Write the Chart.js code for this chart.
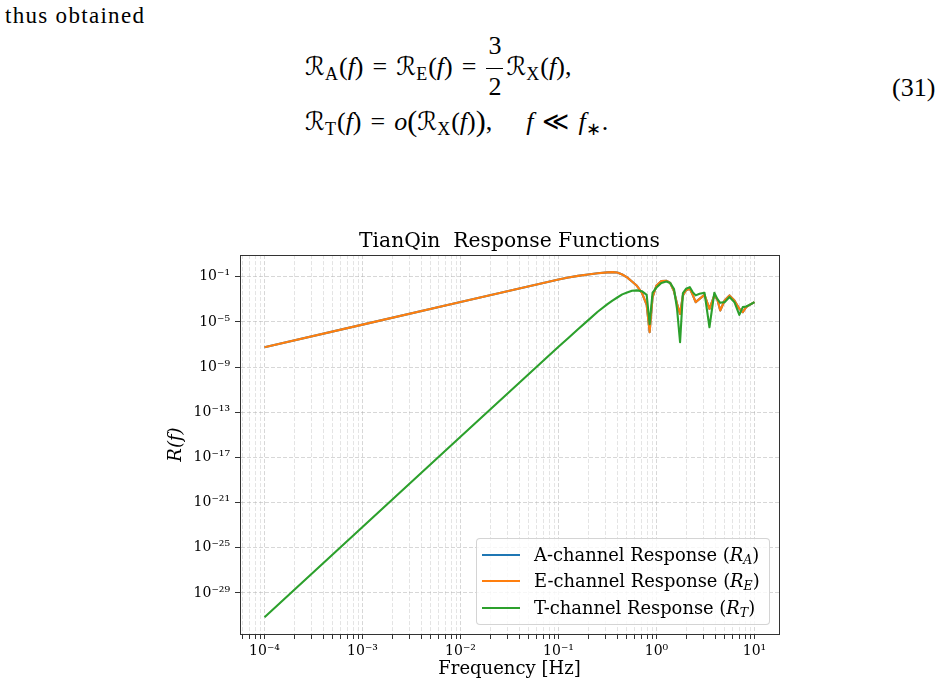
<!DOCTYPE html>
<html><head><meta charset="utf-8">
<script src="https://cdn.jsdelivr.net/npm/chart.js@4.4.1/dist/chart.umd.min.js"></script>
<style>
html,body{margin:0;padding:0;background:#fff;width:943px;height:687px;overflow:hidden;position:relative}
.tx{position:absolute;font-family:'Liberation Serif',serif;color:#000;white-space:nowrap;font-size:26px;line-height:26px}
.intro{font-size:23px;line-height:23px;letter-spacing:1.3px}
.R{font-family:'DejaVu Serif','DejaVu Sans',serif;font-size:25px}
.sb{font-size:18px;vertical-align:-5px;margin-right:1px}
.op{margin:0 9px}
.frac{display:inline-block;position:relative;width:17px;height:0;margin:0 3px 0 1px}
.frac .num,.frac .den{position:absolute;left:0;width:100%;text-align:center;line-height:26px}
.frac .num{top:-42px}
.frac .den{top:-1px}
.frac .bar{position:absolute;left:0;width:100%;top:-7px;height:1px;background:#000}
.big{font-size:30px;vertical-align:-1px}
#wrap{position:absolute;left:0;top:200px;width:943px;height:487px}
#legend{position:absolute;left:476px;top:538px;width:294px;height:87px;box-sizing:border-box;border:1px solid rgba(204,204,204,0.85);border-radius:4px;background:rgba(255,255,255,0.8)}
.lrow{position:absolute;left:0;height:24px;width:100%}
.lline{position:absolute;left:5px;top:11px;width:38px;height:2.2px}
.ltext{position:absolute;left:57px;top:0;line-height:24px;font-family:'DejaVu Serif',serif;font-size:17.9px;color:#000;white-space:nowrap}
.ltext sub{font-size:12.5px;vertical-align:-3px}
</style></head><body>
<div class="tx intro" style="left:5px;top:4px">thus obtained</div>
<div class="tx" style="left:305px;top:53.5px"><span class="R">ℛ</span><span class="sb">A</span>(<i>f</i>)<span class="op">=</span><span class="R">ℛ</span><span class="sb">E</span>(<i>f</i>)<span class="op">=</span><span class="frac"><span class="num">3</span><span class="bar"></span><span class="den">2</span></span><span class="R">ℛ</span><span class="sb">X</span>(<i>f</i>),</div>
<div class="tx" style="left:305px;top:107.5px"><span class="R">ℛ</span><span class="sb">T</span>(<i>f</i>)<span class="op">=</span><i>o</i><span class="big">(</span><span class="R">ℛ</span><span class="sb">X</span>(<i>f</i>)<span class="big">)</span>,<span style="margin-left:34px"><i>f</i></span><span class="op">≪</span><i>f</i><span class="sb">∗</span>.</div>
<div class="tx" style="left:892px;top:74.5px">(31)</div>
<div id="wrap"><canvas id="c"></canvas></div>
<div id="legend"></div>
<script>
// ---- data ----
const frequencies = [1e-4, 1e-3, 1e-2, 0.1, 0.126, 0.158, 0.2, 0.251, 0.316,
  0.355, 0.398, 0.447, 0.501, 0.562, 0.631, 0.708, 0.794, 0.851, 0.912,
  1.0, 1.12, 1.26, 1.38, 1.51, 1.62, 1.74, 1.86, 2.0, 2.19,
  2.34, 2.51, 2.75, 3.09, 3.47, 3.89, 4.17, 4.47, 4.95, 5.56,
  6.24, 7.0, 7.59, 8.22, 8.91, 10];
const responseA = [5.75e-8, 5.75e-6, 5.75e-4, 5.75e-2, 8.51e-2, 1.20e-1, 1.58e-1, 2.04e-1, 2.45e-1,
  2.57e-1, 2.40e-1, 1.58e-1, 8.71e-2, 3.80e-2, 1.58e-2, 3.98e-3, 3.16e-4, 1.26e-6, 1.58e-3,
  1.70e-2, 4.17e-2, 4.47e-2, 2.82e-2, 5.01e-3, 3.98e-4, 5.01e-5, 2.24e-3, 6.31e-3, 8.51e-3,
  2.51e-3, 5.62e-4, 1.10e-3, 2.51e-3, 1.45e-4, 2.24e-3, 1.0e-3, 1.02e-4, 7.94e-4, 2.24e-3,
  7.94e-4, 1.45e-4, 7.24e-5, 2.04e-4, 3.24e-4, 5.62e-4];
const responseE = [5.75e-8, 5.75e-6, 5.75e-4, 5.75e-2, 8.51e-2, 1.20e-1, 1.58e-1, 2.04e-1, 2.45e-1,
  2.57e-1, 2.40e-1, 1.58e-1, 8.71e-2, 3.80e-2, 1.58e-2, 3.98e-3, 3.16e-4, 1.26e-6, 1.58e-3,
  1.70e-2, 4.17e-2, 4.47e-2, 2.82e-2, 5.01e-3, 3.98e-4, 5.01e-5, 2.24e-3, 6.31e-3, 8.51e-3,
  2.51e-3, 5.62e-4, 1.10e-3, 2.51e-3, 1.45e-4, 2.24e-3, 1.0e-3, 1.02e-4, 7.94e-4, 2.24e-3,
  7.94e-4, 1.45e-4, 7.24e-5, 2.04e-4, 3.24e-4, 5.62e-4];
const responseT = [7.08e-32, 7.08e-24, 6.76e-16, 6.31e-8, 3.80e-7, 2.29e-6, 1.38e-5, 7.94e-5, 3.80e-4,
  7.76e-4, 1.45e-3, 2.75e-3, 4.07e-3, 5.75e-3, 6.17e-3, 5.25e-3, 2.51e-3, 6.31e-6, 3.98e-3,
  1.12e-2, 2.82e-2, 3.80e-2, 2.82e-2, 7.94e-3, 1.45e-4, 1.58e-7, 3.55e-3, 8.51e-3, 1.20e-2,
  4.37e-3, 2.24e-3, 3.09e-3, 3.80e-3, 3.39e-6, 3.80e-3, 1.10e-3, 4.90e-4, 5.62e-4, 1.58e-3,
  5.62e-4, 4.17e-5, 2.04e-4, 2.34e-4, 3.24e-4, 5.62e-4];
const seriesLabels = ['A-channel Response (R_A)', 'E-channel Response (R_E)', 'T-channel Response (R_T)'];
const xTickValues = [1e-4, 1e-3, 1e-2, 1e-1, 1, 10];
const xTickLabels = ['10⁻⁴', '10⁻³', '10⁻²', '10⁻¹', '10⁰', '10¹'];
const yTickValues = [1e-1, 1e-5, 1e-9, 1e-13, 1e-17, 1e-21, 1e-25, 1e-29];
const yTickLabels = ['10⁻¹', '10⁻⁵', '10⁻⁹', '10⁻¹³', '10⁻¹⁷', '10⁻²¹', '10⁻²⁵', '10⁻²⁹'];
const chartTitle = 'TianQin  Response Functions';
const xTitle = 'Frequency [Hz]';
const yTitle = 'R(f)';

// ---- styling ----
const colors = ['#1f77b4', '#ff7f0e', '#2ca02c'];
const X_MIN = Math.pow(10, -4.25), X_MAX = Math.pow(10, 1.25);
const Y_MIN = Math.pow(10, -32.63), Y_MAX = Math.pow(10, 0.92);
const serif = "'DejaVu Serif', serif";

const xTicks = [];
for (let e = -5; e <= 1; e++) {
  for (let m = 1; m <= 9; m++) {
    const v = m * Math.pow(10, e);
    if (v >= X_MIN && v <= X_MAX) xTicks.push({value: v, major: m === 1});
  }
}
xTicks.sort((a, b) => a.value - b.value);
function labelFor(v, vals, labs) {
  const k = vals.findIndex(t => Math.abs(Math.log10(t) - Math.log10(v)) < 1e-6);
  return k >= 0 ? labs[k] : '';
}

const seriesValues = [responseA, responseE, responseT];
const datasets = seriesLabels.map((lab, i) => ({
  label: lab,
  data: frequencies.map((f, j) => ({x: f, y: seriesValues[i][j]})),
  borderColor: colors[i],
  backgroundColor: colors[i],
  borderWidth: 2.1,
  pointRadius: 0,
  tension: 0,
  fill: false,
  borderJoinStyle: 'round',
  order: 2 - i
}));

const framePlugin = {
  id: 'frame',
  afterDraw(chart) {
    const {ctx, chartArea: a} = chart;
    ctx.save();
    ctx.strokeStyle = '#333';
    ctx.lineWidth = 1;
    ctx.strokeRect(Math.round(a.left) + 0.5, Math.round(a.top) + 0.5, Math.round(a.right - a.left), Math.round(a.bottom - a.top));
    ctx.restore();
  }
};

const chart = new Chart(document.getElementById('c'), {
  type: 'line',
  data: {datasets},
  plugins: [framePlugin],
  options: {
    responsive: true,
    maintainAspectRatio: false,
    animation: false,
    layout: {padding: {left: 166, right: 164, top: 29.5, bottom: 7}},
    plugins: {
      legend: {display: false},
      tooltip: {enabled: false},
      title: {display: true, text: chartTitle, fullSize: false, color: '#000',
        font: {family: serif, size: 20.3, weight: 'normal'}, lineHeight: 1.2, padding: {top: 0, bottom: 1.2}}
    },
    scales: {
      x: {
        type: 'logarithmic', min: X_MIN, max: X_MAX,
        afterBuildTicks: s => { s.ticks = xTicks.map(t => ({value: t.value, major: t.major})); },
        afterFit: s => { s.height = 46; },
        ticks: {autoSkip: false, maxRotation: 0, minRotation: 0, padding: 4, color: '#000',
          font: {family: serif, size: 14},
          callback: v => labelFor(v, xTickValues, xTickLabels)},
        grid: {
          color: c => (c.tick && c.tick.major) ? 'rgba(170,170,170,0.6)' : 'rgba(170,170,170,0.4)',
          lineWidth: 0.8, tickLength: 5, tickColor: '#333', tickWidth: 1
        },
        border: {display: true, color: '#333', width: 1, dash: [4, 2]},
        title: {display: true, text: xTitle, color: '#000', font: {family: serif, size: 18}, padding: 0}
      },
      y: {
        type: 'logarithmic', min: Y_MIN, max: Y_MAX,
        afterBuildTicks: s => { s.ticks = yTickValues.map(v => ({value: v, major: true})); },
        afterFit: s => { s.width = 74; },
        ticks: {autoSkip: false, padding: 5, color: '#000',
          font: {family: serif, size: 14},
          callback: v => labelFor(v, yTickValues, yTickLabels)},
        grid: {color: 'rgba(170,170,170,0.6)', lineWidth: 0.8, tickLength: 5, tickColor: '#333', tickWidth: 1},
        border: {display: true, color: '#333', width: 1, dash: [4, 2]},
        title: {display: true, text: yTitle, color: '#000', font: {family: serif, size: 18, style: 'italic'}, padding: 0}
      }
    }
  }
});

// HTML legend built from the chart's datasets (for italic / subscript math)
const legendEl = document.getElementById('legend');
const rowCenters = [15.5, 42, 68.5];
chart.data.datasets.forEach((ds, i) => {
  const m = ds.label.match(/^(.*)\(R_(\w)\)$/);
  const row = document.createElement('div');
  row.className = 'lrow';
  row.style.top = (rowCenters[i] - 12) + 'px';
  row.innerHTML = '<span class="lline" style="background:' + ds.borderColor + '"></span>' +
    '<span class="ltext">' + m[1] + '(<i>R</i><sub><i>' + m[2] + '</i></sub>)</span>';
  legendEl.appendChild(row);
});
</script>
</body></html>
